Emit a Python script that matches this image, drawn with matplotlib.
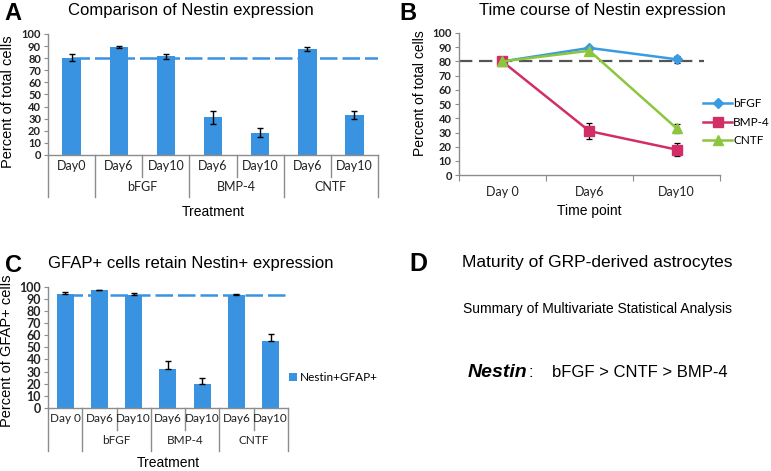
import matplotlib.pyplot as plt
import numpy as np

plt.rcParams['font.family'] = ['Liberation Sans', 'DejaVu Sans']

blue = '#3a93e0'
gray = '#8c8c8c'
tick_font = 'Lato'

# panel A data
a_days = ['Day0', 'Day6', 'Day10', 'Day6', 'Day10', 'Day6', 'Day10']
a_groups = ['bFGF', 'BMP-4', 'CNTF']
a_vals = [80.5, 89, 81.5, 31, 18.5, 87.5, 33]
a_err = [2.5, 1, 2, 5.5, 3.5, 2, 3]
a_ref = 80

# panel B data
b_days = ['Day 0', 'Day6', 'Day10']
b_bfgf = [80, 89.5, 81.5]
b_bfgf_err = [1, 0.8, 2.5]
b_bmp4 = [80, 31, 18]
b_bmp4_err = [1.5, 5.5, 4.5]
b_cntf = [80, 87.5, 33]
b_cntf_err = [1, 1.5, 3]
b_ref = 80

# panel C data
c_days = ['Day 0', 'Day6', 'Day10', 'Day6', 'Day10', 'Day6', 'Day10']
c_vals = [94, 97.5, 93, 32.5, 20, 93, 55]
c_err = [2, 0.3, 1.5, 6, 5, 1, 6]
c_ref = 93.5


def style_axes(ax, fs):
    for s in ['top', 'right']:
        ax.spines[s].set_visible(False)
    for s in ['left', 'bottom']:
        ax.spines[s].set_color(gray)
        ax.spines[s].set_linewidth(1)
    ax.set_ylim(0, 100)
    ax.set_yticks(np.arange(0, 101, 10))
    ax.tick_params(axis='y', colors=gray, length=3, labelcolor='#222222',
                   labelsize=fs, pad=2)
    for lab in ax.get_yticklabels():
        lab.set_fontfamily(tick_font)
        lab.set_fontweight('bold')


def category_table(ax, days, groups, row1, row2, fs):
    n = len(days)
    ax.set_xlim(-0.5, n - 0.5)
    ax.set_xticks([])
    tr = ax.get_xaxis_transform()
    for i in range(n + 1):
        x = i - 0.5
        full = (i % 2 == 1) or i == 0 or i == n
        y1 = row2 if full else row1
        ax.plot([x, x], [0, y1], color=gray, lw=1, transform=tr, clip_on=False)
    for i, d in enumerate(days):
        ax.text(i, row1 / 2, d, transform=tr, ha='center', va='center',
                fontsize=fs, family=tick_font, color='#222222')
    for j, g in enumerate(groups):
        ax.text(1.5 + 2 * j, (row1 + row2) / 2, g, transform=tr, ha='center',
                va='center', fontsize=fs, family=tick_font, color='#222222')


fig = plt.figure(figsize=(7.71, 4.71), dpi=100)

# ---- A ----
axA = fig.add_axes([0.0623, 0.671, 0.428, 0.257])
style_axes(axA, 8)
xa = np.arange(len(a_vals))
axA.plot([0, len(a_vals) - 0.5], [a_ref, a_ref], color=blue, lw=1.8,
         dashes=(7, 2), zorder=1)
axA.bar(xa, a_vals, width=0.39, color=blue, zorder=2)
axA.errorbar(xa, a_vals, yerr=a_err, fmt='none', ecolor='black', elinewidth=1,
             capsize=2.5, capthick=1, zorder=3)
category_table(axA, a_days, a_groups, -0.18, -0.35, 9)
axA.set_ylabel('Percent of total cells', fontsize=10.5)
axA.yaxis.set_label_coords(-0.1, 0.44)
axA.text(0.5, -0.47, 'Treatment', transform=axA.transAxes, ha='center',
         va='center', fontsize=10)
fig.text(0.247, 0.977, 'Comparison of Nestin expression', ha='center',
         va='center', fontsize=12)
fig.text(0.006, 0.972, 'A', ha='left', va='center', fontsize=17,
         fontweight='bold')

# ---- B ----
axB = fig.add_axes([0.595, 0.628, 0.339, 0.302])
style_axes(axB, 8)
xb = np.arange(len(b_days))
axB.set_xlim(-0.5, 2.5)
axB.plot([-0.5, 2.31], [b_ref, b_ref], color='#555555', lw=1.6, dashes=(6, 3),
         zorder=1)
series = [('bFGF', b_bfgf, b_bfgf_err, '#3a9be3', 'D', 5),
          ('BMP-4', b_bmp4, b_bmp4_err, '#d12e68', 's', 6.5),
          ('CNTF', b_cntf, b_cntf_err, '#8cc63e', '^', 6.5)]
for name, vals, err, col, mk, ms in series:
    axB.errorbar(xb, vals, yerr=err, color=col, lw=1.8, marker=mk,
                 markersize=ms, ecolor='black', elinewidth=0.9, capsize=2.5,
                 capthick=0.9, label=name, zorder=2)
axB.set_xticks([-0.5, 0.5, 1.5, 2.5])
axB.set_xticklabels([])
axB.tick_params(axis='x', colors=gray, length=4, direction='out')
for i, d in enumerate(b_days):
    axB.text(i, -0.12, d, transform=axB.get_xaxis_transform(), ha='center',
             va='center', fontsize=9, family=tick_font, color='#222222')
axB.set_ylabel('Percent of total cells', fontsize=10)
axB.yaxis.set_label_coords(-0.12, 0.58)
axB.text(0.5, -0.25, 'Time point', transform=axB.transAxes, ha='center',
         va='center', fontsize=10)
handles, labels = axB.get_legend_handles_labels()
handles = [h[0] for h in handles]
axB.legend(handles, labels, loc='center left', bbox_to_anchor=(0.935, 0.373),
           frameon=False, handlelength=2.45, handletextpad=0.1,
           labelspacing=0.65, borderpad=0, borderaxespad=0,
           prop={'family': tick_font, 'size': 8.5})
fig.text(0.781, 0.977, 'Time course of Nestin expression', ha='center',
         va='center', fontsize=12)
fig.text(0.518, 0.972, 'B', ha='left', va='center', fontsize=17,
         fontweight='bold')

# ---- C ----
axC = fig.add_axes([0.0623, 0.134, 0.311, 0.257])
style_axes(axC, 9)
xc = np.arange(len(c_vals))
axC.plot([0, len(c_vals) - 0.5], [c_ref, c_ref], color=blue, lw=1.8,
         dashes=(7, 2), zorder=1)
axC.bar(xc, c_vals, width=0.5, color=blue, zorder=2, label='Nestin+GFAP+')
axC.errorbar(xc, c_vals, yerr=[np.zeros(len(c_err)), c_err], fmt='none',
             ecolor='black', elinewidth=1, capsize=2.5, capthick=1, zorder=3)
category_table(axC, c_days, a_groups, -0.18, -0.36, 8.5)
axC.set_ylabel('Percent of GFAP+ cells', fontsize=10.5)
axC.yaxis.set_label_coords(-0.14, 0.47)
axC.text(0.5, -0.455, 'Treatment', transform=axC.transAxes, ha='center',
         va='center', fontsize=10)
axC.legend(loc='center left', bbox_to_anchor=(1.0, 0.25), frameon=False,
           handlelength=0.7, handleheight=0.7, handletextpad=0.2,
           borderpad=0, borderaxespad=0.1,
           prop={'family': tick_font, 'size': 8.5})
fig.text(0.247, 0.44, 'GFAP+ cells retain Nestin+ expression', ha='center',
         va='center', fontsize=12)
fig.text(0.006, 0.437, 'C', ha='left', va='center', fontsize=17,
         fontweight='bold')

# ---- D ----
fig.text(0.531, 0.44, 'D', ha='left', va='center', fontsize=18,
         fontweight='bold')
fig.text(0.774, 0.442, 'Maturity of GRP-derived astrocytes', ha='center',
         va='center', fontsize=12.5)
fig.text(0.775, 0.344, 'Summary of Multivariate Statistical Analysis',
         ha='center', va='center', fontsize=10)
fig.text(0.607, 0.21, 'Nestin', ha='left', va='center', fontsize=14,
         fontweight='bold', style='italic')
fig.text(0.686, 0.21, ':', ha='left', va='center', fontsize=12)
fig.text(0.716, 0.21, 'bFGF > CNTF > BMP-4', ha='left', va='center',
         fontsize=12)

fig.savefig('out.png', dpi=100)
